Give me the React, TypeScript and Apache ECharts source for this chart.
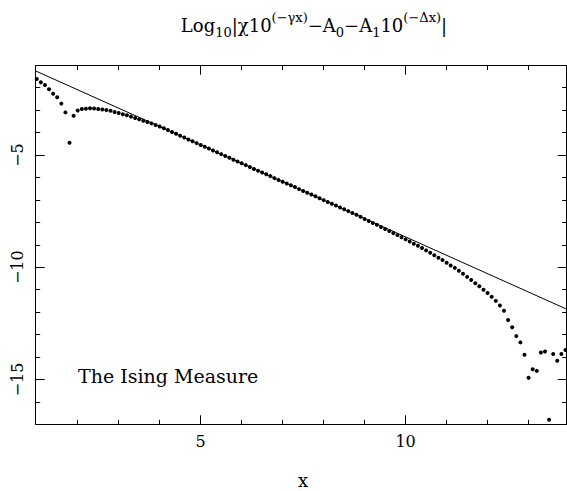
import React, { useEffect, useRef } from 'react';
import * as echarts from 'echarts';

// ---- data ----
const xValues = [
  1.0, 1.1, 1.2, 1.3, 1.4, 1.5, 1.6, 1.7, 1.8, 1.9,
  2.0, 2.1, 2.2, 2.3, 2.4, 2.5, 2.6, 2.7, 2.8, 2.9,
  3.0, 3.1, 3.2, 3.3, 3.4, 3.5, 3.6, 3.7, 3.8, 3.9,
  4.0, 4.1, 4.2, 4.3, 4.4, 4.5, 4.6, 4.7, 4.8, 4.9,
  5.0, 5.1, 5.2, 5.3, 5.4, 5.5, 5.6, 5.7, 5.8, 5.9,
  6.0, 6.1, 6.2, 6.3, 6.4, 6.5, 6.6, 6.7, 6.8, 6.9,
  7.0, 7.1, 7.2, 7.3, 7.4, 7.5, 7.6, 7.7, 7.8, 7.9,
  8.0, 8.1, 8.2, 8.3, 8.4, 8.5, 8.6, 8.7, 8.8, 8.9,
  9.0, 9.1, 9.2, 9.3, 9.4, 9.5, 9.6, 9.7, 9.8, 9.9,
  10.0, 10.1, 10.2, 10.3, 10.4, 10.5, 10.6, 10.7, 10.8, 10.9,
  11.0, 11.1, 11.2, 11.3, 11.4, 11.5, 11.6, 11.7, 11.8, 11.9,
  12.0, 12.1, 12.2, 12.3, 12.4, 12.5, 12.6, 12.7, 12.8, 12.9,
  13.0, 13.1, 13.2, 13.3, 13.4, 13.5, 13.6, 13.7, 13.8, 13.9,
];

const measureValues = [
  -1.61, -1.76, -1.88, -2.07, -2.27, -2.43, -2.71, -3.10, -4.45, -3.25,
  -3.02, -2.95, -2.94, -2.92, -2.93, -2.95, -2.97, -2.99, -3.03, -3.08,
  -3.13, -3.18, -3.23, -3.29, -3.35, -3.41, -3.47, -3.53, -3.59, -3.66,
  -3.73, -3.81, -3.89, -3.97, -4.05, -4.14, -4.22, -4.31, -4.39, -4.47,
  -4.55, -4.63, -4.71, -4.80, -4.88, -4.96, -5.04, -5.12, -5.21, -5.29,
  -5.37, -5.45, -5.53, -5.62, -5.70, -5.78, -5.86, -5.94, -6.03, -6.11,
  -6.19, -6.27, -6.35, -6.43, -6.52, -6.60, -6.68, -6.76, -6.84, -6.93,
  -7.01, -7.09, -7.17, -7.25, -7.34, -7.42, -7.50, -7.58, -7.66, -7.75,
  -7.85, -7.94, -8.03, -8.11, -8.21, -8.30, -8.39, -8.48, -8.57, -8.66,
  -8.76, -8.85, -8.95, -9.04, -9.14, -9.25, -9.36, -9.47, -9.58, -9.68,
  -9.80, -9.92, -10.03, -10.16, -10.29, -10.43, -10.57, -10.71, -10.85, -11.00,
  -11.15, -11.32, -11.50, -11.71, -11.94, -12.35, -12.68, -13.07, -13.35, -13.90,
  -14.93, -14.55, -14.62, -13.80, -13.76, -16.80, -13.87, -14.17, -13.87, -13.69,
];

const fitLineX = [0.975, 13.93];
const fitLineY = [-1.255, -11.87];

const xRange = [0.975, 13.93];
const yRange = [-17.0, -1.02];

const xMajorTicks = [5, 10];
const xMinorTicks = [2, 3, 4, 6, 7, 8, 9, 11, 12, 13];
const yMajorTicks = [-15, -10, -5];
const yMinorTicks = [-16, -14, -13, -12, -11, -9, -8, -7, -6, -4, -3, -2];

const titleTokens = [
  ['n', 'Log'], ['sb', '10'], ['n', '|χ10'], ['sp', '(−γx)'],
  ['n', '−A'], ['sb', '0'], ['n', '−A'], ['sb', '1'], ['n', '10'],
  ['sp', '(−Δx)'], ['n', '|'],
];
const annotationText = 'The Ising Measure';
const xAxisTitle = 'x';

const FONT = '"DejaVu Serif", "Liberation Serif", serif';

function makeAxis(kind: 'x' | 'y', position: string, major: boolean, labels: boolean) {
  const range = kind === 'x' ? xRange : yRange;
  const ticks = kind === 'x' ? (major ? xMajorTicks : xMinorTicks) : (major ? yMajorTicks : yMinorTicks);
  const axis: any = {
    type: 'value',
    position,
    min: range[0],
    max: range[1],
    splitLine: { show: false },
    axisLine: { show: major, onZero: false, lineStyle: { color: '#000', width: 1 } },
    axisTick: {
      show: true,
      inside: true,
      length: major ? 9 : 4.5,
      customValues: ticks,
      lineStyle: { color: '#000', width: 1 },
    },
    axisLabel: { show: false },
  };
  if (labels) {
    axis.axisLabel = {
      show: true,
      customValues: ticks,
      color: '#000',
      fontFamily: FONT,
      fontSize: 16,
      margin: kind === 'x' ? 9 : 10,
      rotate: kind === 'y' ? 90 : 0,
      formatter: (v: number) => (v < 0 ? '−' + Math.abs(v) : String(v)),
    };
  }
  return axis;
}

export default function App() {
  const ref = useRef<HTMLDivElement>(null);
  useEffect(() => {
    if (!ref.current) return;
    const chart = echarts.init(ref.current, undefined, { renderer: 'svg' });
    const points = xValues.map((x, i) => [x, measureValues[i]]);
    const linePts = fitLineX.map((x, i) => [x, fitLineY[i]]);
    const titleText = titleTokens.map(([s, t]) => `{${s}|${t}}`).join('');
    const tok = { fontFamily: FONT, color: '#000', fontWeight: 'normal' };
    chart.setOption({
      animation: false,
      backgroundColor: '#fff',
      textStyle: { fontFamily: FONT },
      title: {
        text: titleText,
        left: 314,
        top: 11,
        padding: 0,
        textAlign: 'center',
        textStyle: {
          fontWeight: 'normal',
          rich: {
            n: { ...tok, fontSize: 18, lineHeight: 28, verticalAlign: 'middle' },
            sp: { ...tok, fontSize: 13, lineHeight: 14, verticalAlign: 'top' },
            sb: { ...tok, fontSize: 13, lineHeight: 16, verticalAlign: 'bottom' },
          },
        },
      },
      grid: { left: 35.7, right: 0.3, top: 65.7, bottom: 66.7, containLabel: false },
      xAxis: [
        makeAxis('x', 'bottom', true, true),
        makeAxis('x', 'bottom', false, false),
        makeAxis('x', 'top', true, false),
        makeAxis('x', 'top', false, false),
      ],
      yAxis: [
        makeAxis('y', 'left', true, true),
        makeAxis('y', 'left', false, false),
        makeAxis('y', 'right', true, false),
        makeAxis('y', 'right', false, false),
      ],
      graphic: [
        {
          type: 'text',
          x: 78,
          y: 376,
          style: { text: annotationText, font: `19px ${FONT}`, fill: '#000', verticalAlign: 'middle', align: 'left' },
        },
        {
          type: 'text',
          x: 303,
          y: 480,
          style: { text: xAxisTitle, font: `18px ${FONT}`, fill: '#000', verticalAlign: 'middle', align: 'center' },
        },
      ],
      series: [
        {
          type: 'line',
          data: linePts,
          xAxisIndex: 0,
          yAxisIndex: 0,
          showSymbol: false,
          symbol: 'none',
          lineStyle: { color: '#000', width: 1 },
          silent: true,
        },
        {
          type: 'scatter',
          data: points,
          xAxisIndex: 0,
          yAxisIndex: 0,
          symbol: 'circle',
          symbolSize: 4,
          itemStyle: { color: '#000', opacity: 1 },
          silent: true,
        },
      ],
    });
    return () => chart.dispose();
  }, []);
  return (
    <div
      ref={ref}
      style={{ position: 'fixed', left: 0, top: 0, width: 567, height: 491, background: '#fff' }}
    />
  );
}
